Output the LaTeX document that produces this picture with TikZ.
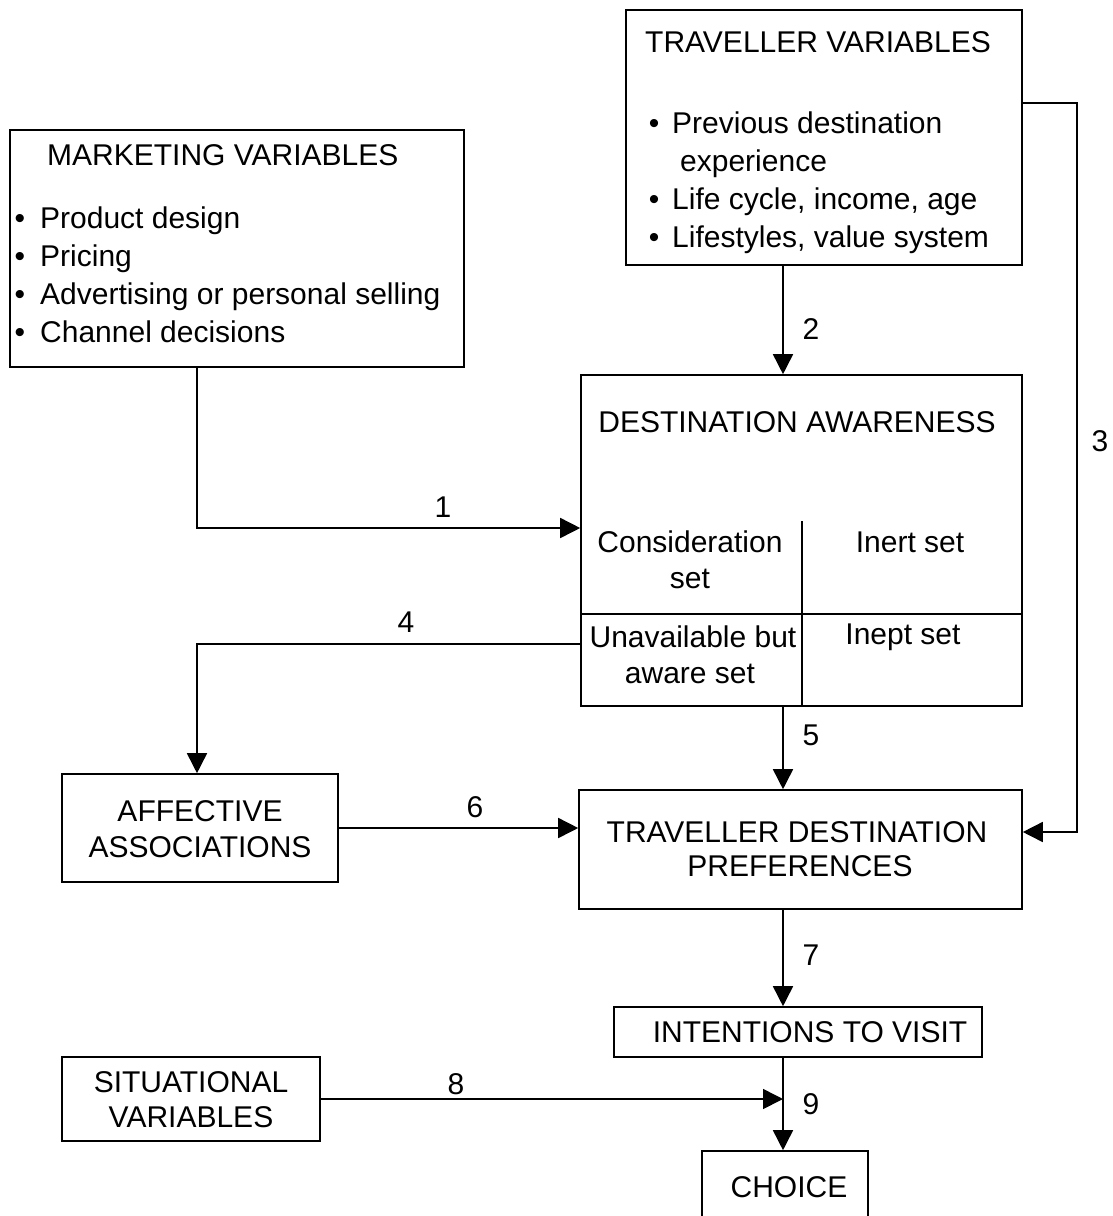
\documentclass[tikz,border=0pt]{standalone}
\usepackage{fontspec}
\setmainfont{Liberation Sans}
\usetikzlibrary{arrows.meta}
\begin{document}
\begin{tikzpicture}[x=1pt,y=-1pt,
  box/.style={draw,line width=1.6pt,inner sep=0pt,anchor=center},
  txt/.style={font=\fontsize{30}{38}\selectfont,inner sep=0pt},
  num/.style={font=\fontsize{30}{38}\selectfont,inner sep=0pt,anchor=base},
  conn/.style={line width=1.6pt},
  arr/.style={conn,-{Triangle[length=20pt,width=20pt]}}]
\useasboundingbox (0,0) rectangle (1113,1216);
\clip (0,0) rectangle (1113,1216);

% boxes
\node[box,minimum width=396pt,minimum height=255pt] (trav) at (824,137.5) {};
\node[box,minimum width=454pt,minimum height=237pt] (mkt) at (237,248.5) {};
\node[box,minimum width=441pt,minimum height=331pt] (da) at (801.5,540.5) {};
\node[box,minimum width=276pt,minimum height=108pt] (aff) at (200,828) {};
\node[box,minimum width=443pt,minimum height=119pt] (pref) at (800.5,849.5) {};
\node[box,minimum width=368pt,minimum height=50pt] (int) at (798,1032) {};
\node[box,minimum width=258pt,minimum height=84pt] (sit) at (191,1099) {};
\node[box,minimum width=166pt,minimum height=89pt] (choice) at (785,1195.5) {};

% sets inside destination awareness
\draw[conn] ([yshift=-73.5pt]da.west) -- ([yshift=-73.5pt]da.east);
\draw[conn] ([xshift=0.5pt]da.south) -- ++(0,-186);

% traveller variables
\node[txt,anchor=base west] (travT) at (645,52) {TRAVELLER VARIABLES};
\node[txt,anchor=base] (tb1) at (654,133) {•};
\node[txt,anchor=base west] (t1) at (672,133) {Previous destination};
\node[txt,anchor=base west] (t1b) at (680,171) {experience};
\node[txt,anchor=base] (tb2) at (654,209) {•};
\node[txt,anchor=base west] (t2) at (672,209) {Life cycle, income, age};
\node[txt,anchor=base] (tb3) at (654,247) {•};
\node[txt,anchor=base west] (t3) at (672,247) {Lifestyles, value system};

% marketing variables
\node[txt,anchor=base west] (mktT) at (47,165) {MARKETING VARIABLES};
\node[txt,anchor=base] (mb1) at (20,228) {•};
\node[txt,anchor=base west] (m1) at (40,228) {Product design};
\node[txt,anchor=base] (mb2) at (20,266) {•};
\node[txt,anchor=base west] (m2) at (40,266) {Pricing};
\node[txt,anchor=base] (mb3) at (20,304) {•};
\node[txt,anchor=base west] (m3) at (40,304) {Advertising or personal selling};
\node[txt,anchor=base] (mb4) at (20,342) {•};
\node[txt,anchor=base west] (m4) at (40,342) {Channel decisions};

% destination awareness
\node[txt,anchor=base] (daT) at (797,432) {DESTINATION AWARENESS};
\node[txt,anchor=base] (cs1) at (690,552) {Consideration};
\node[txt,anchor=base] (cs2) at (690,588) {set};
\node[txt,anchor=base] (inert) at (910,552) {Inert set};
\node[txt,anchor=base] (ua1) at (693,647) {Unavailable but};
\node[txt,anchor=base] (ua2) at (690,683) {aware set};
\node[txt,anchor=base] (inept) at (903,644) {Inept set};

% other boxes
\node[txt,anchor=base] (aff1) at (200,821) {AFFECTIVE};
\node[txt,anchor=base] (aff2) at (200,857) {ASSOCIATIONS};
\node[txt,anchor=base] (pr1) at (797,842) {TRAVELLER DESTINATION};
\node[txt,anchor=base] (pr2) at (800,876) {PREFERENCES};
\node[txt,anchor=base] (intT) at (810,1042) {INTENTIONS TO VISIT};
\node[txt,anchor=base] (sit1) at (191,1092) {SITUATIONAL};
\node[txt,anchor=base] (sit2) at (191,1127) {VARIABLES};
\node[txt,anchor=base] (chT) at (789,1197) {CHOICE};

% connectors
\coordinate (j9) at ([xshift=-15pt]int.south);
\draw[arr] ([xshift=-40pt]mkt.south) |- ([yshift=12.5pt]da.west);
\draw[arr] ([xshift=-41pt]trav.south) -- ([xshift=-41pt]trav.south |- da.north);
\draw[arr] ([yshift=34.5pt]trav.east) -- ++(54,0) |- ([yshift=17.5pt]pref.east);
\draw[arr] ([yshift=-103.5pt]da.west) -| ([xshift=-3pt]aff.north);
\draw[arr] ([xshift=-18.5pt]da.south) -- ([xshift=-18.5pt]da.south |- pref.north);
\draw[arr] (aff.east) -- (aff.east -| pref.west);
\draw[arr] ([xshift=-17.5pt]pref.south) -- ([xshift=-17.5pt]pref.south |- int.north);
\draw[arr] (sit.east) -- (sit.east -| j9);
\draw[arr] (j9) -- (j9 |- choice.north);

% connector numbers
\node[num] (n1) at (443,517) {1};
\node[num] (n2) at (811,339) {2};
\node[num] (n3) at (1100,451) {3};
\node[num] (n4) at (406,632) {4};
\node[num] (n5) at (811,745) {5};
\node[num] (n6) at (475,817) {6};
\node[num] (n7) at (811,965) {7};
\node[num] (n8) at (456,1094) {8};
\node[num] (n9) at (811,1114) {9};
\end{tikzpicture}
\end{document}
